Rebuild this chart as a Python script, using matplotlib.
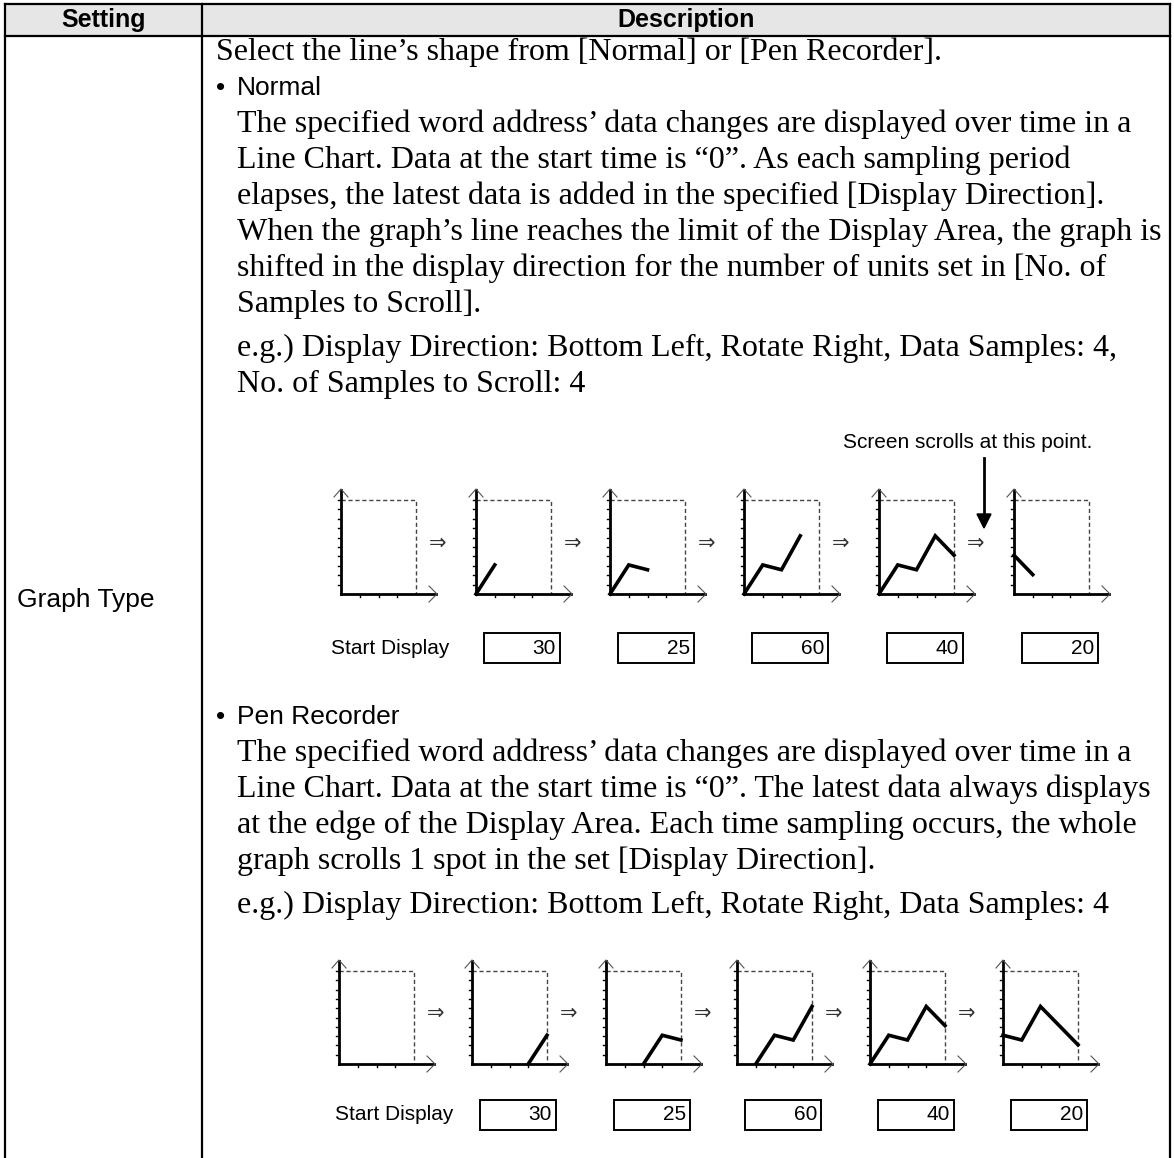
import matplotlib
matplotlib.use("Agg")
import matplotlib.pyplot as plt
from matplotlib.patches import Rectangle, Polygon

# --- data ---------------------------------------------------------------
header = ["Setting", "Description"]
setting_name = "Graph Type"

intro = "Select the line\u2019s shape from [Normal] or [Pen Recorder]."
normal_title = "Normal"
normal_text = [
    "The specified word address\u2019 data changes are displayed over time in a",
    "Line Chart. Data at the start time is \u201c0\u201d. As each sampling period",
    "elapses, the latest data is added in the specified [Display Direction].",
    "When the graph\u2019s line reaches the limit of the Display Area, the graph is",
    "shifted in the display direction for the number of units set in [No. of",
    "Samples to Scroll].",
]
normal_example = [
    "e.g.) Display Direction: Bottom Left, Rotate Right, Data Samples: 4,",
    "No. of Samples to Scroll: 4",
]
pen_title = "Pen Recorder"
pen_text = [
    "The specified word address\u2019 data changes are displayed over time in a",
    "Line Chart. Data at the start time is \u201c0\u201d. The latest data always displays",
    "at the edge of the Display Area. Each time sampling occurs, the whole",
    "graph scrolls 1 spot in the set [Display Direction].",
]
pen_example = ["e.g.) Display Direction: Bottom Left, Rotate Right, Data Samples: 4"]

start_label = "Start Display"
scroll_note = "Screen scrolls at this point."
box_values = [30, 25, 60, 40, 20]

# line data shown in each frame, and the sample slot where it starts
normal_frames = [[], [0, 30], [0, 30, 25], [0, 30, 25, 60], [0, 30, 25, 60, 40], [40, 20]]
normal_start = [0, 0, 0, 0, 0, 0]
pen_frames = [[], [0, 30], [0, 30, 25], [0, 30, 25, 60], [0, 30, 25, 60, 40], [30, 25, 60, 40, 20]]
pen_start = [0, 3, 2, 1, 0, 0]
n_samples = 4
y_full = 97

# --- layout (pixels) ----------------------------------------------------
W, H = 1174, 1158
SERIF = "Liberation Serif"
SANS = ["Liberation Sans", "DejaVu Sans"]
fs_body = 23
fs_sans = 19
lh = 36

fig = plt.figure(figsize=(W / 100, H / 100), dpi=100)
ax = fig.add_axes([0, 0, 1, 1])
ax.set_xlim(0, W)
ax.set_ylim(H, 0)
ax.axis("off")

left, right, top, head_b, div = 5, 1170, 4, 36, 202

# table
ax.add_patch(Rectangle((left, top), right - left, head_b - top, facecolor="#e6e6e6", edgecolor="none"))
ax.plot([left, right], [top, top], color="black", lw=1.6)
ax.plot([left, right], [head_b, head_b], color="black", lw=1.6)
ax.plot([left, left], [top, H], color="black", lw=1.6)
ax.plot([right, right], [top, H], color="black", lw=1.6)
ax.plot([div, div], [top, H], color="black", lw=1.6)

ax.text((left + div) / 2, 20, header[0], family=SANS, weight="bold", fontsize=18, ha="center", va="center")
ax.text((div + right) / 2, 20, header[1], family=SANS, weight="bold", fontsize=18, ha="center", va="center")
ax.text(17, 600, setting_name, family=SANS, fontsize=fs_sans, ha="left", va="center")

x_txt, x_ind = 216, 237


def serif(x, y, s):
    ax.text(x, y, s, family=SERIF, fontsize=fs_body, ha="left", va="center")


def bullet(y, s):
    ax.text(x_txt, y, "\u2022", family=SANS, fontsize=fs_sans, ha="left", va="center")
    ax.text(x_ind, y, s, family=SANS, fontsize=fs_sans, ha="left", va="center")


serif(x_txt, 52, intro)
bullet(88, normal_title)
for i, s in enumerate(normal_text):
    serif(x_ind, 124 + i * lh, s)
for i, s in enumerate(normal_example):
    serif(x_ind, 348 + i * lh, s)

bullet(717, pen_title)
for i, s in enumerate(pen_text):
    serif(x_ind, 753 + i * lh, s)
for i, s in enumerate(pen_example):
    serif(x_ind, 905 + i * lh, s)


def panel(x0, y0, h, values, start):
    w = 75
    # dashed display area
    ax.plot([x0, x0 + w, x0 + w], [y0 - h, y0 - h, y0], color="#444444", lw=1.0, ls=(0, (3, 2)))
    # axes
    ax.plot([x0, x0], [y0, y0 - h - 10], color="black", lw=2.0)
    ax.plot([x0, x0 + w + 20], [y0, y0], color="black", lw=2.0)
    ax.plot([x0 - 7, x0, x0 + 7], [y0 - h - 3, y0 - h - 11, y0 - h - 3], color="#555555", lw=0.8)
    ax.plot([x0 + w + 13, x0 + w + 21, x0 + w + 13], [y0 - 8, y0, y0 + 8], color="#555555", lw=0.8)
    for k in range(1, 11):
        ty = y0 - k * h / 10
        ax.plot([x0 - 3, x0], [ty, ty], color="black", lw=1.0)
    for k in range(1, n_samples):
        tx = x0 + k * w / n_samples
        ax.plot([tx, tx], [y0, y0 + 3], color="black", lw=1.0)
    if values:
        xs = [x0 + (start + i) * w / n_samples for i in range(len(values))]
        ys = [y0 - v * h / y_full for v in values]
        ax.plot(xs, ys, color="black", lw=2.6, solid_joinstyle="miter")


def row(xs, y0, h, frames, starts, label_y, label_x):
    for i, x0 in enumerate(xs):
        panel(x0, y0, h, frames[i], starts[i])
        if i < len(xs) - 1:
            ax.text(x0 + 97, y0 - h / 2 - 4, "\u21d2", family=SANS, fontsize=15,
                    color="#333333", ha="center", va="center")
    ax.text(label_x, label_y, start_label, family=SANS, fontsize=15, ha="left", va="center")
    for i, v in enumerate(box_values):
        bx = xs[i + 1] + 8
        ax.add_patch(Rectangle((bx, label_y - 15), 76, 30, facecolor="white", edgecolor="black", lw=1.4))
        ax.text(bx + 72, label_y, str(v), family=SANS, fontsize=15, ha="right", va="center")


top_x = [341, 476, 610, 744, 879, 1014]
bot_x = [339, 472, 606, 737, 870, 1003]
row(top_x, 594, 94, normal_frames, normal_start, 648, 331)
row(bot_x, 1064, 93, pen_frames, pen_start, 1115, 335)

# scroll annotation
ax.text(843, 443, scroll_note, family=SANS, fontsize=15, ha="left", va="center")
ax.plot([984, 984], [458, 516], color="black", lw=2.0)
ax.add_patch(Polygon([[977, 514], [991, 514], [984, 528]], closed=True, color="black"))

fig.savefig("out.png", dpi=100)
